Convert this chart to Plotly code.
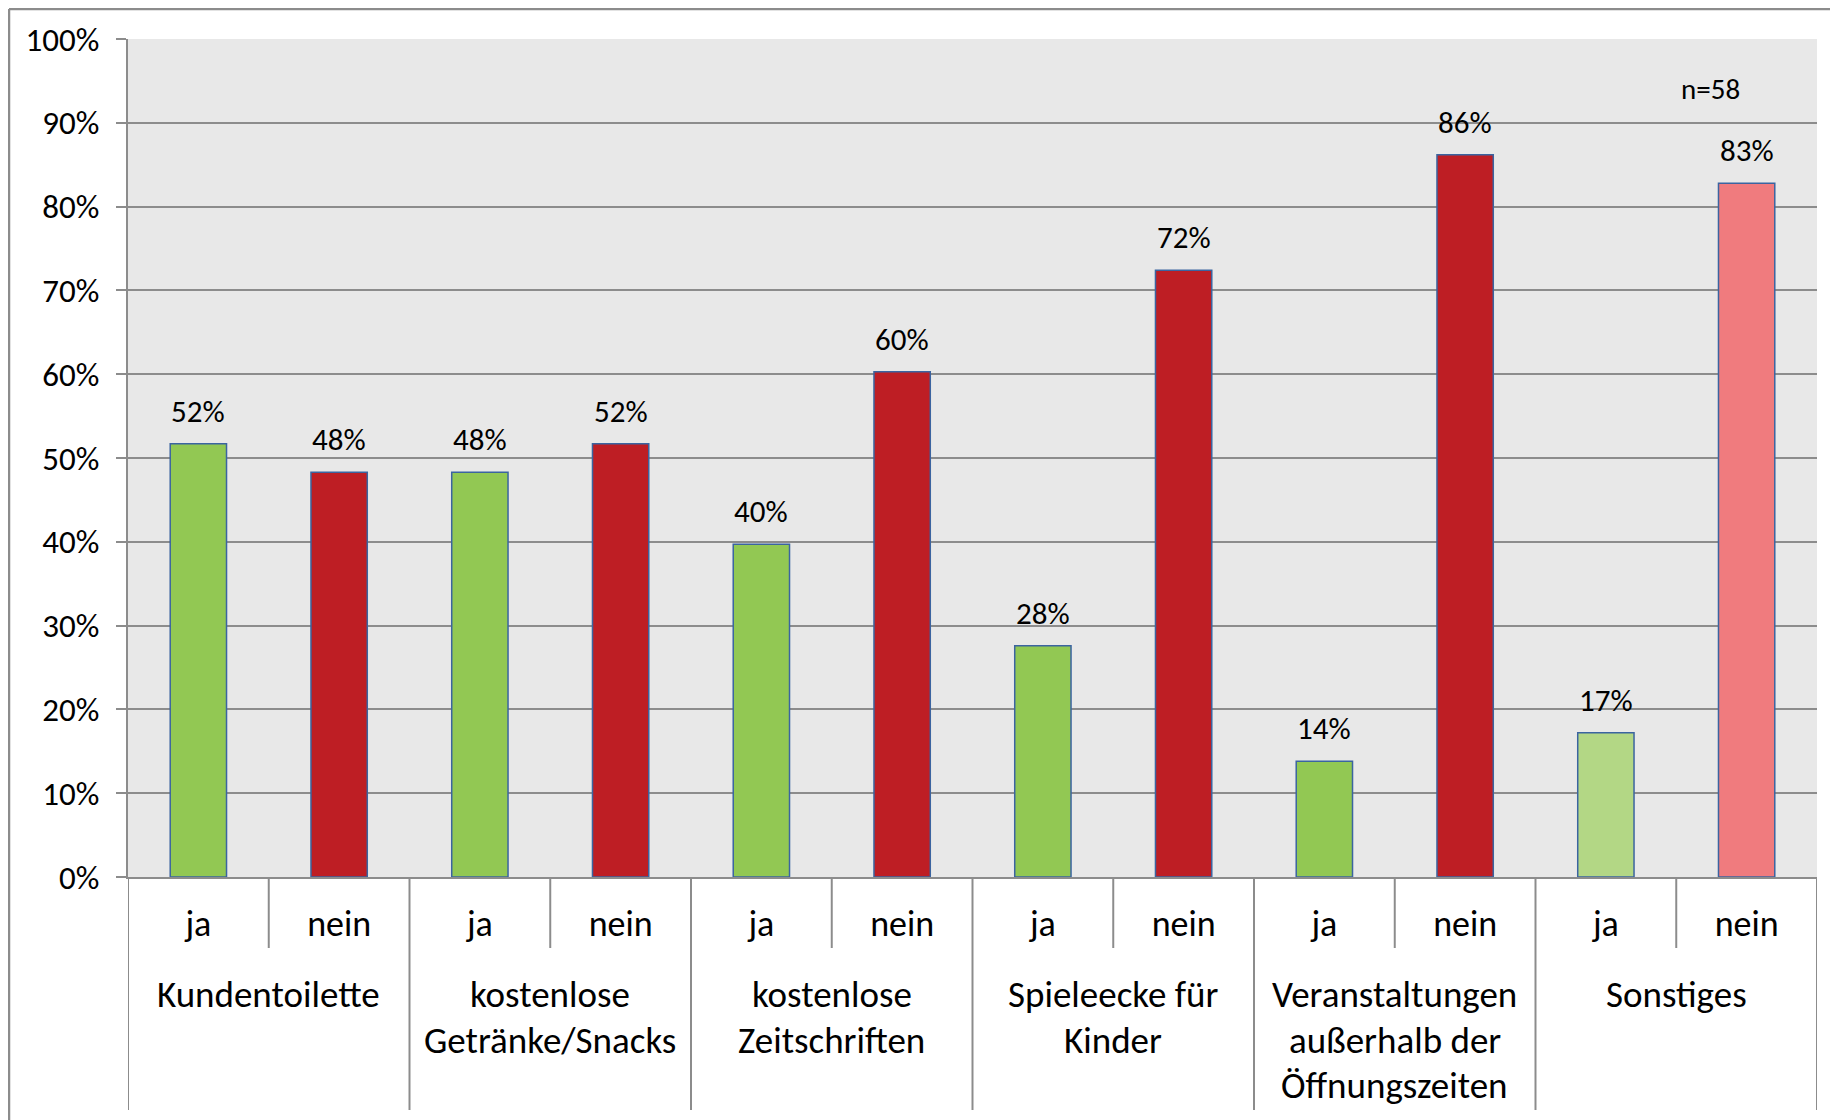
import plotly.graph_objects as go

# Daten (n=58): Anteil ja / nein je Angebot
gruppen = [
    ["Kundentoilette"],
    ["kostenlose", "Getränke/Snacks"],
    ["kostenlose", "Zeitschriften"],
    ["Spieleecke für", "Kinder"],
    ["Veranstaltungen", "außerhalb der", "Öffnungszeiten"],
    ["Sonstiges"],
]
antworten = ["ja", "nein"] * 6
werte = [51.7, 48.3, 48.3, 51.7, 39.7, 60.3, 27.6, 72.4, 13.8, 86.2, 17.2, 82.8]
farben = [
    "#92C853", "#BE1E24", "#92C853", "#BE1E24", "#92C853", "#BE1E24",
    "#92C853", "#BE1E24", "#92C853", "#BE1E24", "#B3D785", "#F07B7E",
]
y_ticks = list(range(0, 101, 10))
y_ticktext = [f"{v}%" for v in y_ticks]

W, H = 1838, 1120
OFF = 8  # body margin of the html page
L, R, T = 128 - OFF, 21 + OFF, 39 - OFF
B = H + OFF - 877
PW, PH = W - L - R, H - T - B

FONT = "Carlito, Lato, sans-serif"
GRID = "#8C8C8C"

x = list(range(len(werte)))

fig = go.Figure()
fig.add_trace(
    go.Bar(
        x=x,
        y=werte,
        marker=dict(color=farben, line=dict(color="#3B64A0", width=1.5)),
        width=0.4,
        showlegend=False,
    )
)


def py(px):
    # page pixel row -> paper y
    return (877 - px) / PH


def px_x(px):
    return (px - 128) / PW


shapes = []
# Trennlinien unter der Achse
for i in range(len(werte) + 1):
    xb = i - 0.5
    tief = 1110 if i % 2 == 0 else 948
    shapes.append(dict(type="line", xref="x", yref="paper", x0=xb, x1=xb, y0=0, y1=py(tief),
                       line=dict(color=GRID, width=2)))
# Rahmen links/oben
shapes.append(dict(type="line", xref="paper", yref="paper", x0=px_x(9), x1=px_x(W + 20), y0=py(OFF + 1), y1=py(OFF + 1),
                   line=dict(color=GRID, width=2.5)))
shapes.append(dict(type="line", xref="paper", yref="paper", x0=px_x(9), x1=px_x(9), y0=py(OFF + 1), y1=py(H + 20),
                   line=dict(color=GRID, width=2.5)))

annotations = []
# Datenbeschriftungen
for xi, v in zip(x, werte):
    annotations.append(dict(
        x=xi, y=v, xref="x", yref="y", text=f"{v:.0f}%", showarrow=False,
        yanchor="bottom", yshift=12,
        font=dict(size=31, color="#000000", family=FONT),
    ))
# Gruppenbeschriftungen
for g, zeilen in enumerate(gruppen):
    for k, zeile in enumerate(zeilen):
        annotations.append(dict(
            x=2 * g + 0.5, y=py(995 + 45 * k), xref="x", yref="paper", text=zeile, showarrow=False,
            yanchor="middle", xanchor="center",
            font=dict(size=37, color="#000000", family=FONT),
        ))
annotations.append(dict(
    x=10.74, y=94, xref="x", yref="y", text="n=58", showarrow=False,
    font=dict(size=29, color="#000000", family=FONT),
))

fig.update_layout(
    width=W,
    height=H,
    margin=dict(l=L, r=R, t=T, b=B),
    paper_bgcolor="#FFFFFF",
    plot_bgcolor="#E8E8E8",
    shapes=shapes,
    annotations=annotations,
    xaxis=dict(
        range=[-0.5, 11.5],
        tickvals=x,
        ticktext=antworten,
        tickfont=dict(size=36, color="#000000", family=FONT),
        ticks="outside",
        ticklen=14,
        tickcolor="rgba(0,0,0,0)",
        showgrid=False,
        zeroline=False,
        showline=True,
        linecolor=GRID,
        linewidth=2,
        fixedrange=True,
    ),
    yaxis=dict(
        range=[0, 100],
        tickvals=y_ticks,
        ticktext=y_ticktext,
        tickfont=dict(size=33, color="#000000", family=FONT),
        ticks="outside",
        ticklen=10,
        tickwidth=2,
        tickcolor=GRID,
        ticklabelstandoff=10,
        showgrid=True,
        gridcolor=GRID,
        gridwidth=2,
        zeroline=False,
        showline=True,
        linecolor=GRID,
        linewidth=2,
        fixedrange=True,
    ),
)

fig.write_html("out.html")
